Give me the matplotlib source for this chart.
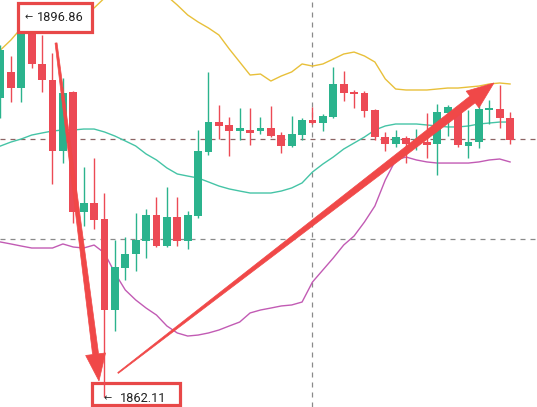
import numpy as np
import matplotlib
matplotlib.use("Agg")
import matplotlib.pyplot as plt
from matplotlib.patches import Rectangle, Polygon

# ---------------- data ----------------
opens = [1889.46, 1891.84, 1890.37, 1895.49, 1892.57, 1891.10, 1884.61, 1890.01, 1879.03, 1879.86,
         1878.39, 1870.07, 1873.91, 1875.19, 1876.38, 1878.76, 1875.92, 1878.58, 1876.38, 1878.67,
         1884.52, 1887.26, 1886.99, 1886.44, 1886.53, 1886.44, 1886.71, 1886.07, 1885.07, 1886.07,
         1887.45, 1887.17, 1887.72, 1890.74, 1890.01, 1889.92, 1888.36, 1885.89, 1885.25, 1885.80,
         1885.53, 1885.43, 1885.25, 1888.09, 1888.27, 1885.07, 1885.43, 1888.36, 1888.45, 1887.63]
highs = [1894.30, 1893.30, 1896.86, 1896.04, 1895.22, 1893.57, 1891.29, 1890.10, 1883.15, 1883.97,
         1880.77, 1876.47, 1876.75, 1878.94, 1879.31, 1880.40, 1881.32, 1880.40, 1879.12, 1886.53,
         1891.84, 1888.82, 1887.72, 1888.54, 1888.54, 1887.72, 1888.73, 1886.35, 1887.81, 1887.63,
         1888.63, 1887.99, 1892.29, 1891.93, 1890.19, 1890.10, 1888.45, 1886.35, 1886.53, 1885.98,
         1886.62, 1888.09, 1888.91, 1888.82, 1888.36, 1888.36, 1889.27, 1889.27, 1890.65, 1888.18]
lows = [1887.63, 1889.09, 1889.09, 1892.20, 1890.01, 1881.59, 1883.51, 1878.03, 1877.75, 1877.48,
        1862.11, 1868.15, 1872.81, 1873.64, 1874.83, 1875.83, 1875.83, 1875.92, 1875.65, 1878.48,
        1884.25, 1885.71, 1884.15, 1885.62, 1885.16, 1886.17, 1885.89, 1884.43, 1884.98, 1885.62,
        1887.08, 1886.44, 1887.63, 1889.18, 1888.54, 1887.72, 1885.62, 1884.61, 1884.98, 1883.51,
        1884.70, 1883.97, 1882.42, 1885.98, 1884.98, 1883.97, 1884.89, 1887.08, 1886.71, 1885.25]
closes = [1893.85, 1890.37, 1895.68, 1892.57, 1891.10, 1884.61, 1889.92, 1879.03, 1879.86, 1878.30,
          1870.07, 1874.00, 1875.19, 1876.47, 1878.76, 1875.92, 1878.58, 1876.38, 1878.76, 1884.61,
          1887.26, 1886.90, 1886.44, 1886.71, 1886.26, 1886.71, 1885.98, 1885.07, 1886.17, 1887.45,
          1887.17, 1887.81, 1890.74, 1889.92, 1889.82, 1888.27, 1885.89, 1885.25, 1885.89, 1885.25,
          1885.71, 1885.16, 1888.18, 1888.63, 1885.16, 1885.43, 1888.45, 1888.54, 1887.63, 1885.62]

bb_upper = [1893.85, 1894.76, 1895.86, 1896.23, 1896.50, 1896.68, 1896.87, 1897.05, 1897.32, 1897.69,
            1898.60, 1899.33, 1900.07, 1900.43, 1900.25, 1899.70, 1898.79, 1897.96, 1897.05, 1896.41,
            1895.86, 1895.22, 1893.94, 1892.75, 1891.56, 1891.65, 1891.01, 1891.47, 1891.84, 1892.57,
            1892.38, 1892.57, 1893.02, 1893.48, 1893.66, 1893.30, 1892.75, 1891.20, 1890.28, 1890.19,
            1890.19, 1890.19, 1890.28, 1890.37, 1890.37, 1890.46, 1890.55, 1890.74, 1890.83, 1890.74]
bb_mid = [1885.07, 1885.43, 1885.71, 1886.07, 1886.26, 1886.44, 1886.53, 1886.53, 1886.62, 1886.62,
          1886.35, 1885.98, 1885.53, 1885.07, 1884.34, 1883.79, 1883.06, 1882.51, 1882.32, 1882.14,
          1881.78, 1881.41, 1881.14, 1880.95, 1880.77, 1880.77, 1880.77, 1880.95, 1881.23, 1881.69,
          1882.69, 1883.42, 1884.06, 1884.79, 1885.34, 1885.89, 1886.53, 1886.90, 1887.08, 1887.08,
          1887.08, 1886.99, 1886.90, 1886.81, 1886.81, 1886.90, 1887.08, 1887.17, 1887.26, 1887.26]
bb_lower = [1876.29, 1876.11, 1875.92, 1875.74, 1875.74, 1875.74, 1876.11, 1875.83, 1875.74, 1876.01,
            1875.28, 1873.45, 1871.90, 1870.99, 1870.25, 1869.61, 1868.61, 1867.97, 1867.69, 1867.78,
            1867.97, 1868.24, 1868.61, 1868.97, 1869.80, 1870.07, 1870.25, 1870.44, 1870.53, 1870.80,
            1872.63, 1873.73, 1874.83, 1876.01, 1876.84, 1878.12, 1879.58, 1881.96, 1883.79, 1884.06,
            1883.79, 1883.61, 1883.51, 1883.51, 1883.51, 1883.51, 1883.61, 1883.79, 1883.88, 1883.61]

high_label = 1896.86
low_label = 1862.11
high_bar = 2
low_bar = 10
price_line = 1885.71
ref_line = 1876.56
marker_bar = 30

# ---------------- styling ----------------
UP = '#2bb38d'
DOWN = '#ec4a55'
ARROW = '#f04848'
BOX = '#e84848'

fig = plt.figure(figsize=(5.37, 4.07), dpi=100)
ax = fig.add_axes([0, 0, 1, 1])
ax.set_xlim(-0.048, 51.59)
ax.set_ylim(1861.20, 1898.42)
ax.axis('off')

x = np.arange(len(opens))
o = np.array(opens); h = np.array(highs); l = np.array(lows); c = np.array(closes)

# reference lines
ax.axhline(price_line, color='#8c6464', lw=0.9, dashes=(4, 4), zorder=1)
ax.axhline(ref_line, color='#8a8a8a', lw=0.9, dashes=(4, 4), zorder=1)
ax.axvline(marker_bar, color='#8a8a8a', lw=0.9, dashes=(4, 4), zorder=1)

# bollinger bands
ax.plot(x, bb_upper, color='#e8c03a', lw=1.0, zorder=2)
ax.plot(x, bb_mid, color='#45c4a6', lw=1.0, zorder=2)
ax.plot(x, bb_lower, color='#c25bb4', lw=1.0, zorder=2)

# box for the low label (under the candles)
lb_x0, lb_x1 = 8.80, 17.26
ax.add_patch(Rectangle((lb_x0, 1861.38), lb_x1 - lb_x0, 2.01, facecolor='white',
                       edgecolor=BOX, lw=2.3, zorder=2.5))

# candles
colors = np.where(c >= o, UP, DOWN)
ax.vlines(x, l, h, colors=colors, lw=1.0, zorder=3)
bottoms = np.minimum(o, c)
heights = np.maximum(np.abs(c - o), 0.2)
ax.bar(x, heights, bottom=bottoms, width=0.76, color=colors, zorder=4, linewidth=0)

# box for the high label (over the candles)
hb_x0, hb_x1 = 1.68, 8.80
ax.add_patch(Rectangle((hb_x0, 1895.49), hb_x1 - hb_x0, 2.66, facecolor='white',
                       edgecolor=BOX, lw=2.3, zorder=6))

ax.text(high_bar + 0.74, high_label, '←', fontsize=7, family='DejaVu Sans',
        color='#222222', ha='center', va='center', zorder=7)
ax.text(high_bar + 1.51, high_label, f'{high_label:.2f}', fontsize=9.2, family='Roboto',
        color='#222222', ha='left', va='center', zorder=7)
ax.text(low_bar + 0.34, low_label - 0.15, '←', fontsize=7, family='DejaVu Sans',
        color='#222222', ha='center', va='center', zorder=7)
ax.text(low_bar + 1.49, low_label - 0.15, f'{low_label:.2f}', fontsize=9.2, family='Roboto',
        color='#222222', ha='left', va='center', zorder=7)


def tapered_arrow(p0, p1, w0, w1, head_len, head_w, color):
    a = ax.transData.transform(p0)
    b = ax.transData.transform(p1)
    d = b - a
    u = d / np.hypot(*d)
    n = np.array([-u[1], u[0]])
    base = b - u * head_len
    pts = [a + n * w0 / 2, base + n * w1 / 2, base + n * head_w / 2, b,
           base - n * head_w / 2, base - n * w1 / 2, a - n * w0 / 2]
    pts = ax.transData.inverted().transform(np.array(pts))
    ax.add_patch(Polygon(pts, closed=True, facecolor=color, edgecolor=color,
                         lw=0.5, zorder=8))


# drop arrow and recovery arrow
tapered_arrow((5.34, 1894.49), (9.47, 1863.58), 2.0, 6.0, 27, 20, ARROW)
tapered_arrow((11.30, 1864.31), (47.45, 1890.83), 1.0, 8.5, 27, 21, ARROW)

fig.savefig('out.png', dpi=100, facecolor='white')
